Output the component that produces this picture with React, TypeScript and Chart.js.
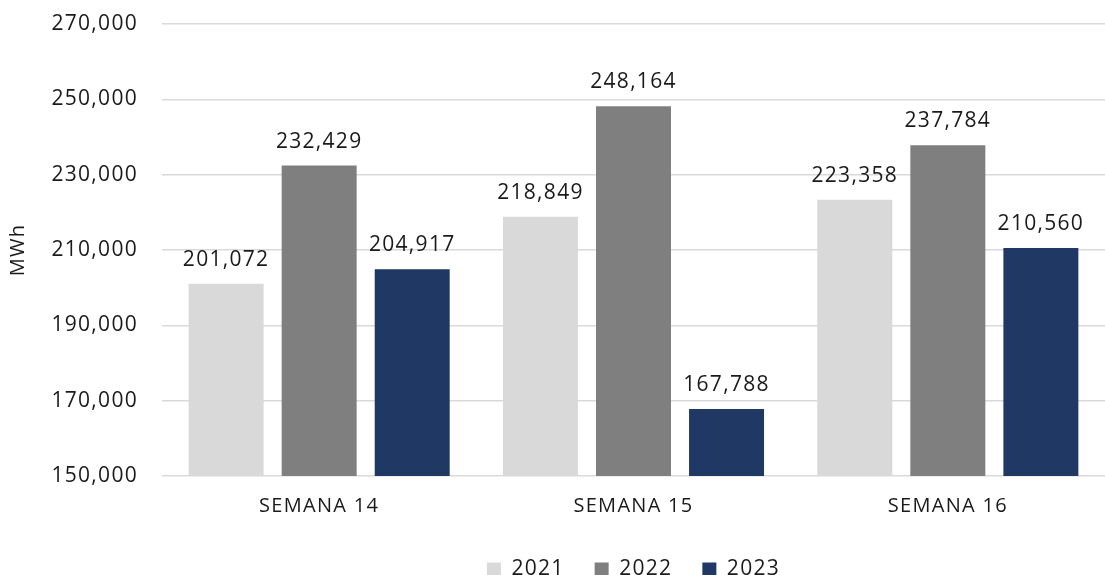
import React, { useEffect, useRef } from "react";
import { Chart, registerables } from "chart.js";

Chart.register(...registerables);

const categories = ["SEMANA 14", "SEMANA 15", "SEMANA 16"];
const seriesNames = ["2021", "2022", "2023"];
const values2021 = [201072, 218849, 223358];
const values2022 = [232429, 248164, 237784];
const values2023 = [204917, 167788, 210560];
const yTicks = [150000, 170000, 190000, 210000, 230000, 250000, 270000];

const colors = ["#D9D9D9", "#7F7F7F", "#203864"];
const FONT = "'Open Sans', sans-serif";
const SPACING = "1.3px";

const spacingPlugin = {
  id: "spacing",
  beforeLayout(chart: any) {
    chart.ctx.letterSpacing = SPACING;
  },
  beforeDraw(chart: any) {
    chart.ctx.letterSpacing = SPACING;
  },
};

const valueLabels = {
  id: "valueLabels",
  afterDatasetsDraw(chart: any) {
    const ctx = chart.ctx;
    ctx.save();
    ctx.letterSpacing = SPACING;
    ctx.font = `21px ${FONT}`;
    ctx.fillStyle = "#1a1a1a";
    ctx.textAlign = "center";
    ctx.textBaseline = "alphabetic";
    chart.data.datasets.forEach((ds: any, i: number) => {
      const meta = chart.getDatasetMeta(i);
      meta.data.forEach((el: any, j: number) => {
        const v = ds.data[j];
        ctx.fillText(Number(v).toLocaleString("en-US"), el.x, el.y - 18);
      });
    });
    ctx.restore();
  },
};

export default function App() {
  const ref = useRef<HTMLCanvasElement>(null);
  useEffect(() => {
    document.body.style.margin = "0";
    const data = [values2021, values2022, values2023];
    const chart = new Chart(ref.current!, {
      type: "bar",
      data: {
        labels: categories,
        datasets: seriesNames.map((n, i) => ({
          label: n,
          data: data[i],
          backgroundColor: colors[i],
          borderWidth: 0,
          categoryPercentage: 0.888,
          barPercentage: 0.806,
        })),
      },
      options: {
        responsive: false,
        animation: false,
        layout: { padding: { top: 24, bottom: -15, left: 0, right: 0 } },
        plugins: {
          tooltip: { enabled: false },
          legend: {
            position: "bottom",
            fullSize: false,
            labels: {
              boxWidth: 14,
              boxHeight: 14,
              padding: 30,
              color: "#1a1a1a",
              font: { family: FONT, size: 21 },
            },
          },
        },
        scales: {
          x: {
            grid: { display: false },
            border: { display: false },
            ticks: { color: "#1a1a1a", font: { family: FONT, size: 20 }, padding: 10 },
            afterFit(scale: any) {
              scale.height = 53;
              scale.paddingLeft = 0;
              scale.paddingRight = 0;
            },
          },
          y: {
            min: 150000,
            max: 270000,
            afterBuildTicks(scale: any) {
              scale.ticks = yTicks.map((v) => ({ value: v }));
            },
            grid: { color: "#D9D9D9", lineWidth: 1.5, drawTicks: false },
            border: { display: false },
            ticks: {
              color: "#1a1a1a",
              font: { family: FONT, size: 21 },
              padding: 24,
              callback: (v: any) => Number(v).toLocaleString("en-US"),
            },
            title: {
              display: true,
              text: "MWh",
              color: "#1a1a1a",
              font: { family: FONT, size: 20 },
              padding: { top: 6, bottom: 0 },
            },
            afterFit(scale: any) {
              scale.width = 162;
              scale.paddingTop = 0;
              scale.paddingBottom = 0;
            },
          },
        },
      },
      plugins: [spacingPlugin, valueLabels],
    });
    return () => chart.destroy();
  }, []);
  return (
    <div style={{ width: 1105, height: 575 }}>
      <canvas ref={ref} width={1105} height={575} />
    </div>
  );
}
